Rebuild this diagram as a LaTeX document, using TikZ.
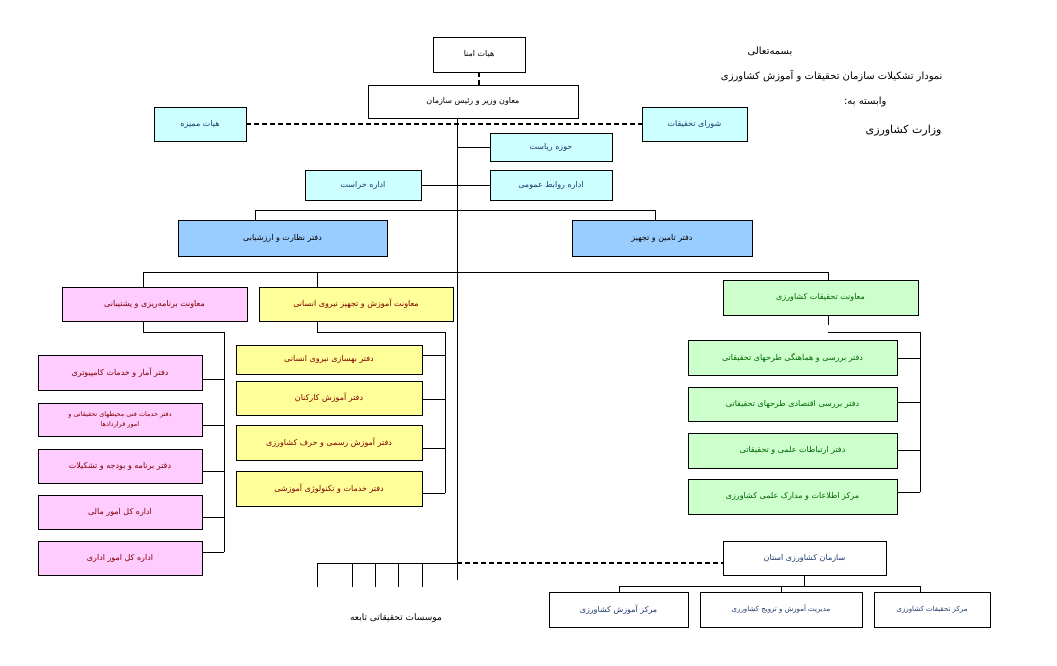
\documentclass[tikz,border=0pt]{standalone}
\usepackage{fontspec}
\setmainfont{DejaVu Sans}
\newfontfamily\arabicfont[Script=Arabic]{DejaVu Sans}
\TeXXeTstate=1
\newcommand\fa[1]{{\arabicfont\beginR #1\endR}}
\definecolor{cyanf}{HTML}{CCFFFF}
\definecolor{bluef}{HTML}{99CCFF}
\definecolor{pinkf}{HTML}{FFCCFF}
\definecolor{yelf}{HTML}{FFFF99}
\definecolor{grnf}{HTML}{CCFFCC}
\definecolor{navy}{HTML}{1F3A6E}
\definecolor{maroon}{HTML}{800000}
\definecolor{dgreen}{HTML}{006600}
\tikzset{
  base/.style={draw=black,line width=0.9pt,inner sep=0pt,font=\fontsize{8}{10}\selectfont,align=center},
  wbox/.style={base,fill=white,text=black},
  nbox/.style={base,fill=white,text=navy},
  cbox/.style={base,fill=cyanf,text=navy},
  bbox/.style={base,fill=bluef,text=black},
  pbox/.style={base,fill=pinkf,text=maroon},
  ybox/.style={base,fill=yelf,text=maroon},
  gbox/.style={base,fill=grnf,text=dgreen},
  ln/.style={line width=0.9pt},
  dl/.style={line width=1.8pt,dash pattern=on 5pt off 3pt},
}
\newcommand\bx[7]{\node[#6,minimum width={#4-#2},minimum height={#5-#3}] (#1) at ({(#2+#4)/2},{(#3+#5)/2}) {#7};}
\begin{document}
\begin{tikzpicture}[x=1pt,y=-1pt]
\useasboundingbox (0,0) rectangle (1057,665);
% header
\node[font=\fontsize{10}{12}\selectfont] (h1) at (770,51) {\fa{بسمه‌تعالی}};
\node[font=\fontsize{10}{12}\selectfont,anchor=east] (h2) at (946,76) {\fa{نمودار تشکیلات سازمان تحقیقات و آموزش کشاورزی}};
\node[font=\fontsize{10}{12}\selectfont,anchor=east] (h3) at (890,102) {\fa{وابسته به:}};
\node[font=\fontsize{11}{13}\selectfont,anchor=east] (h4) at (945,131) {\fa{وزارت کشاورزی}};
% trunk
\coordinate (tb) at (457,580);
\coordinate (tt) at (457,118);
\draw[ln] (tt) -- (tb);
% top
\bx{omana}{433}{37}{525}{72}{wbox}{\fa{هیات امنا}}
\bx{main}{368}{85}{578}{118}{wbox}{\fa{معاون وزیر و رئیس سازمان}}
\draw[dl] (omana.south) -- (main.north -| omana.south);
\bx{momay}{154}{107}{246}{141}{cbox}{\fa{هیات ممیزه}}
\bx{shora}{642}{107}{747}{141}{cbox}{\fa{شورای تحقیقات}}
\draw[dl] (momay.east |- 0,124) -- (shora.west |- 0,124);
\bx{riasat}{490}{133}{612}{161}{cbox}{\fa{حوزه ریاست}}
\bx{ravabet}{490}{170}{612}{200}{cbox}{\fa{اداره روابط عمومی}}
\bx{herasat}{305}{170}{421}{200}{cbox}{\fa{اداره حراست}}
\draw[ln] (riasat.west) -- (riasat.west -| tt);
\draw[ln] (herasat.east) -- (ravabet.west);
\bx{nezarat}{178}{220}{387}{256}{bbox}{\fa{دفتر نظارت و ارزشیابی}}
\bx{tamin}{572}{220}{752}{256}{bbox}{\fa{دفتر تامین و تجهیز}}
\draw[ln] (nezarat.north -| 255,0) -- (255,210) -- (655,210) -- (tamin.north -| 655,0);
% deputies
\bx{pink}{62}{287}{247}{321}{pbox}{\fa{معاونت برنامه‌ریزی و پشتیبانی}}
\bx{yel}{259}{287}{453}{321}{ybox}{\fa{معاونت آموزش و تجهیز نیروی انسانی}}
\bx{grn}{723}{280}{918}{315}{gbox}{\fa{معاونت تحقیقات کشاورزی}}
\draw[ln] (pink.north -| 143,0) -- (143,272) -- (828,272) -- (grn.north -| 828,0);
\draw[ln] (yel.north -| 317,0) -- (317,272);
% pink column
\bx{p1}{38}{355}{202}{390}{pbox}{\fa{دفتر آمار و خدمات کامپیوتری}}
\bx{p2}{38}{403}{202}{436}{pbox}{\fontsize{6.5}{9}\selectfont\fa{دفتر خدمات فنی محیطهای تحقیقاتی و}\\\fontsize{6.5}{9}\selectfont\fa{امور قراردادها}}
\bx{p3}{38}{449}{202}{483}{pbox}{\fa{دفتر برنامه و بودجه و تشکیلات}}
\bx{p4}{38}{495}{202}{529}{pbox}{\fa{اداره کل امور مالی}}
\bx{p5}{38}{541}{202}{575}{pbox}{\fa{اداره کل امور اداری}}
\draw[ln] (pink.south -| 143,0) -- (143,332) -- (224,332) -- (224,552);
\foreach \n/\yy in {p1/379,p2/425,p3/471,p4/517,p5/552} \draw[ln] (\n.east |- 0,\yy) -- (224,\yy);
% yellow column
\bx{y1}{236}{345}{422}{374}{ybox}{\fa{دفتر بهسازی نیروی انسانی}}
\bx{y2}{236}{381}{422}{415}{ybox}{\fa{دفتر آموزش کارکنان}}
\bx{y3}{236}{425}{422}{460}{ybox}{\fa{دفتر آموزش رسمی و حرف کشاورزی}}
\bx{y4}{236}{471}{422}{506}{ybox}{\fa{دفتر خدمات و تکنولوژی آموزشی}}
\draw[ln] (yel.south -| 317,0) -- (317,332) -- (445,332) -- (445,493);
\foreach \n/\yy in {y1/355,y2/399,y3/448,y4/493} \draw[ln] (\n.east |- 0,\yy) -- (445,\yy);
% green column
\bx{g1}{688}{340}{897}{375}{gbox}{\fa{دفتر بررسی و هماهنگی طرحهای تحقیقاتی}}
\bx{g2}{688}{387}{897}{421}{gbox}{\fa{دفتر بررسی اقتصادی طرحهای تحقیقاتی}}
\bx{g3}{688}{433}{897}{468}{gbox}{\fa{دفتر ارتباطات علمی و تحقیقاتی}}
\bx{g4}{688}{479}{897}{514}{gbox}{\fa{مرکز اطلاعات و مدارک علمی کشاورزی}}
\draw[ln] (grn.south -| 828,0) -- (828,325);
\draw[ln] (828,332) -- (920,332) -- (920,492);
\foreach \n/\yy in {g1/358,g2/402,g3/450,g4/492} \draw[ln] (\n.east |- 0,\yy) -- (920,\yy);
% institutes
\draw[ln] (317,563) -- (457,563);
\foreach \xx in {317,352,375,398,422} \draw[ln] (\xx,563) -- (\xx,587);
\node[font=\fontsize{9}{11}\selectfont] (inst) at (396,618) {\fa{موسسات تحقیقاتی تابعه}};
% province
\bx{ostan}{723}{541}{886}{575}{nbox}{\fa{سازمان کشاورزی استان}}
\draw[dl] (457,563) -- (ostan.west |- 0,563);
\bx{k1}{549}{592}{688}{627}{nbox}{\fa{مرکز آموزش کشاورزی}}
\bx{k2}{700}{592}{862}{627}{nbox}{\fontsize{7}{9}\selectfont\fa{مدیریت آموزش و ترویج کشاورزی}}
\bx{k3}{874}{592}{990}{627}{nbox}{\fontsize{7}{9}\selectfont\fa{مرکز تحقیقات کشاورزی}}
\draw[ln] (ostan.south -| 804,0) -- (804,586);
\draw[ln] (k1.north -| 619,0) -- (619,586) -- (920,586) -- (k3.north -| 920,0);
\draw[ln] (k2.north -| 781,0) -- (781,586);
\end{tikzpicture}
\end{document}
